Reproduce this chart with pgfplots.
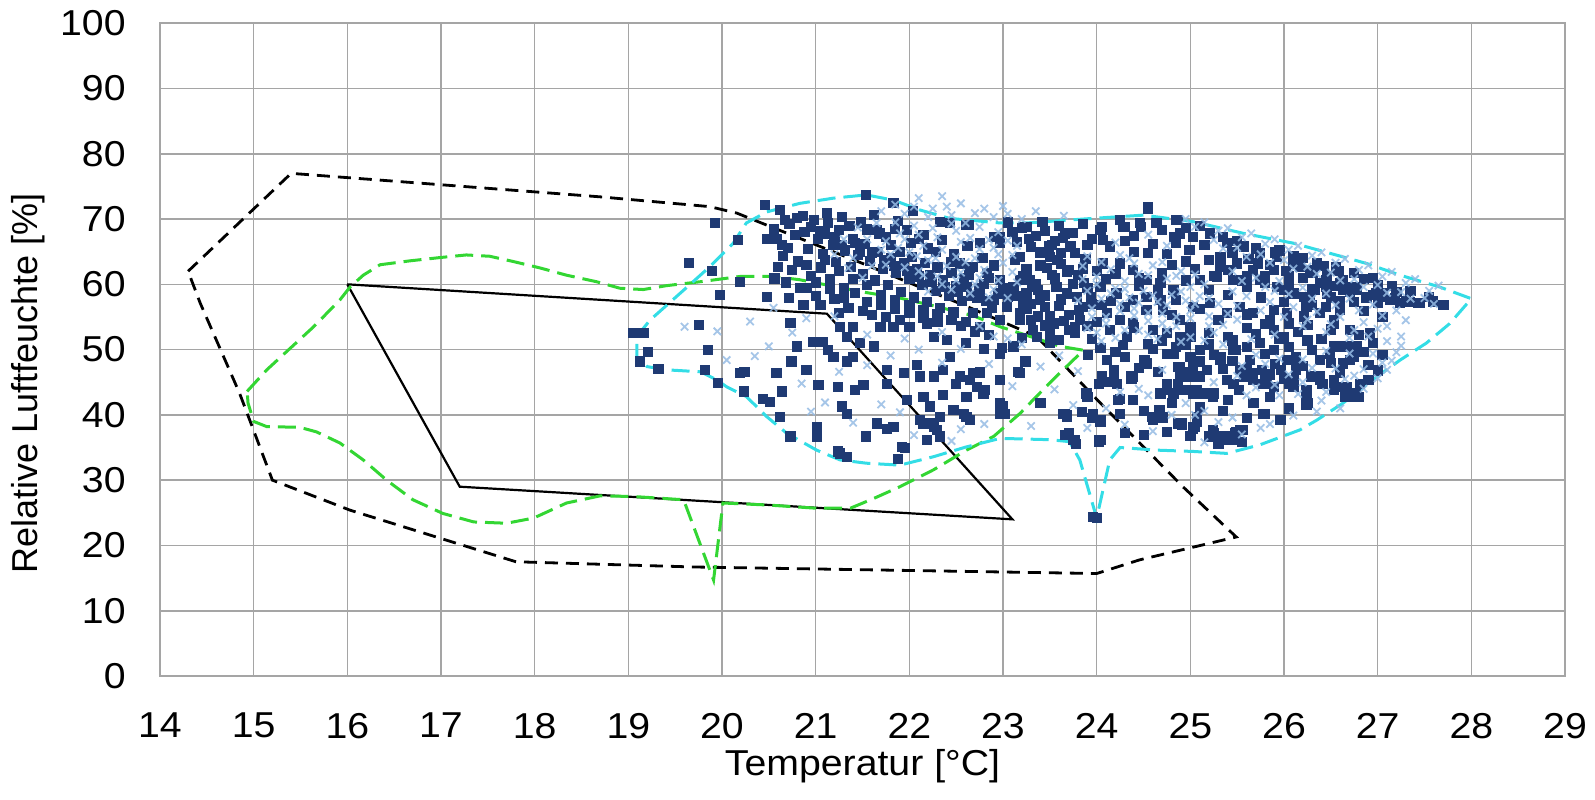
\documentclass[border=0pt]{standalone}
\usepackage{pgfplots}
\pgfplotsset{compat=1.18}
\usepackage{fontspec}
\setmainfont{Liberation Sans}
\definecolor{sq}{RGB}{31,58,115}
\definecolor{cr}{RGB}{150,188,228}
\definecolor{gr}{RGB}{51,214,51}
\definecolor{cy}{RGB}{51,221,230}
\definecolor{gridc}{RGB}{165,165,165}
\begin{document}
\begin{tikzpicture}
\useasboundingbox (-80pt,-61.5pt) rectangle (717.5pt,338pt);
\begin{axis}[
  at={(0pt,0pt)}, anchor=south west,
  scale only axis, width=702.5pt, height=326.4pt,
  xmin=14, xmax=29, ymin=0, ymax=100,
  xtick={14,15,...,29}, ytick={0,10,...,100},
  grid=major, major grid style={gridc, line width=0.8pt},
  axis line style={gridc, line width=0.8pt},
  tick style={draw=none},
  /pgf/number format/assume math mode=true,
  ticklabel style={font=\fontsize{18}{20}\selectfont, xscale=1.09},
  xticklabel style={yshift=-15pt},
  yticklabel style={xshift=-12.25pt},
  xlabel={Temperatur [°C]},
  ylabel={Relative Luftfeuchte [\%]},
  label style={font=\fontsize{18}{20}\selectfont},
  xlabel style={at={(axis description cs:0.5,0)}, anchor=north, yshift=-33pt, xscale=1.09},
  ylabel style={at={([xshift=-54pt,yshift=-17pt]axis description cs:0,0.5)}, anchor=south},
]
% outer black dashed, upper part (below the scatter)
\addplot[black, line width=1.4pt, dash pattern=on 6.5pt off 4pt] coordinates {
(14.3,62.0)(15.4,77.0)(18.7,73.4)(19.87,71.9)(20.16,70.9)(20.35,69.8)(21.5,63.2)(22.6,56.7)(23.36,52.0)
};
% dark squares
\addplot[only marks, mark=square*, mark size=2.3pt, draw=sq, fill=sq] coordinates {
(19.92,69.4)(20.46,72.2)(20.17,66.8)(19.65,63.3)(19.89,62.1)(19.98,58.4)(20.19,60.4)(20.48,66.9)(20.64,66.0)(20.67,69.9)(20.81,63.5)(20.56,60.9)(20.48,58.1)(20.71,57.9)(20.87,56.8)(20.83,59.4)(19.75,53.8)(19.05,52.6)(19.16,52.6)(19.21,49.7)(19.12,48.2)(19.32,47.0)(19.85,50.0)(19.82,46.9)(19.96,44.9)(20.24,46.6)(20.19,46.4)(20.23,43.6)(20.44,42.5)(20.51,42.0)(20.64,43.6)(20.58,46.4)(20.74,48.2)(20.80,50.5)(20.73,54.1)(20.97,51.2)(21.08,51.2)(21.13,50.0)(21.19,48.9)(21.33,48.2)(21.40,48.9)(20.90,46.9)(21.03,44.6)(21.24,44.3)(21.42,43.8)(21.51,44.6)(21.28,41.3)(21.33,40.2)(20.62,39.7)(20.73,36.7)(21.01,38.2)(21.01,36.7)(21.26,34.1)(21.33,33.6)(21.54,36.7)(21.65,38.7)(21.76,37.9)(21.83,38.2)(21.92,35.1)(21.62,50.5)(21.76,46.9)(21.94,46.4)(22.08,47.6)(22.11,45.9)(22.15,42.8)(22.26,45.9)(22.43,48.9)(22.36,46.9)(22.54,45.9)(22.65,45.4)(22.75,46.4)(22.36,43.1)(22.61,42.8)(22.79,43.3)(22.47,40.8)(22.61,39.7)(22.11,39.2)(22.22,38.7)(22.29,37.7)(22.19,36.2)(22.33,36.7)(22.97,49.4)(22.97,45.4)(21.69,53.5)(21.83,53.5)(22.0,53.5)(22.19,54.0)(22.26,52.0)(22.40,51.5)(21.47,51.0)(21.40,53.5)(21.26,53.5)(21.33,52.0)
(21.54,73.7)(21.83,72.5)(22.04,71.3)(22.33,69.6)(22.43,69.4)(22.61,69.1)(21.65,68.3)(21.97,68.3)(22.15,67.6)
(21.88,33.3)(21.95,34.9)(21.24,34.4)(22.5,44.8)(22.97,41.3)(22.97,40.2)(23.39,41.8)(23.64,40.2)(23.75,36.2)(23.96,24.4)(21.76,44.8)(21.97,42.3)(22.22,41.3)(22.58,40.2)(22.65,39.2)(22.33,39.7)(22.26,38.2)(22.15,38.7)
(24.55,71.6)(22.63,69.1)(23.2,68.6)(23.25,68.8)(24.46,69.4)(24.64,69.4)(24.28,68.8)(24.85,69.9)(24.89,67.8)(24.85,66.3)(22.9,67.3)(22.97,66.3)(22.75,66.3)(23.52,66.0)(23.64,67.1)(23.72,65.8)(23.77,64.8)(24.04,68.3)(24.07,66.8)(24.14,65.8)(23.5,64.2)(23.47,62.5)(23.18,64.2)(23.68,61.9)(23.18,60.7)(23.29,60.7)(23.31,59.6)(23.57,59.6)(23.68,58.6)(23.79,58.1)(23.5,55.1)(23.81,56.1)(23.82,54.5)(23.77,53.5)(23.77,52.5)(23.18,55.6)(23.36,52.0)(23.5,51.0)(22.99,50.2)(23.11,50.5)(23.24,48.2)(23.16,46.6)(22.68,46.4)(22.75,46.6)(22.81,43.8)(22.72,44.3)(22.97,41.8)(23.02,40.2)(23.68,39.7)(23.66,36.9)(23.77,36.2)(24.04,36.2)(24.04,39.2)(23.96,40.2)(24.25,42.5)(24.39,42.3)(24.07,45.1)(24.37,45.6)(24.18,46.4)(23.91,49.2)(24.04,50.2)(24.11,48.4)(24.28,50.7)(24.53,47.9)(24.6,39.2)(24.71,39.5)(24.91,38.5)(25.03,37.9)(25.07,38.9)(25.25,37.2)(25.35,36.2)(25.46,36.7)(25.53,37.7)(24.68,43.3)(24.82,43.3)(24.96,43.8)(25.1,43.3)(25.25,43.3)(24.89,45.9)(25.1,45.9)(25.03,47.4)(24.82,49.4)(25.0,48.9)(25.1,49.9)(25.25,49.2)(25.32,48.4)(25.46,44.8)(25.57,45.9)(25.67,45.4)(25.78,44.8)(25.89,44.3)(25.67,41.8)(25.78,40.2)(25.96,39.2)(26.1,44.3)(26.24,43.8)(26.38,45.4)(26.53,44.8)(26.67,44.3)(26.74,42.8)(26.24,41.8)(26.1,48.4)(26.38,48.4)(26.63,47.9)(26.74,49.4)(25.46,49.9)(25.74,51.0)(25.89,49.9)(26.03,48.4)(24.53,56.1)(24.71,56.1)(24.89,54.5)(25.03,56.6)(25.21,57.1)(25.39,55.6)(25.53,56.6)(25.67,55.6)(25.89,56.1)(26.03,55.6)(25.1,60.7)(25.28,61.2)(25.46,60.7)(25.6,59.6)(25.74,60.7)(25.92,59.6)(26.1,58.6)(26.28,58.1)(26.46,58.6)(26.63,59.1)(26.78,59.6)(25.03,67.3)(25.21,67.8)(25.39,66.3)(25.57,65.8)(25.74,64.8)(25.92,64.2)(26.1,63.2)(26.28,62.2)(26.46,61.2)(26.63,60.7)(26.78,59.1)(25.32,64.2)(25.5,63.2)(25.67,62.2)(25.32,62.7)(24.07,63.2)(24.25,63.2)(24.39,62.2)(24.53,60.7)(24.68,60.2)(24.82,59.1)(24.04,59.6)(24.21,58.6)(24.39,57.6)(24.53,58.1)(24.68,57.6)(24.11,55.6)(24.25,54.5)(24.39,54.0)(24.6,53.0)(24.75,52.5)(24.89,52.0)(24.32,52.0)(24.14,53.0)(22.54,63.2)(22.68,62.7)(22.83,61.7)(22.97,60.7)(23.11,59.6)(23.25,58.6)(23.39,57.6)(22.61,59.6)(22.75,58.6)(22.9,57.6)(23.04,56.6)(23.18,54.5)(23.32,53.0)(22.68,55.6)(22.83,55.6)(22.97,54.5)
(27.06,58.1)(27.18,57.9)(27.3,57.4)(27.43,57.1)(27.59,57.4)(27.71,56.8)(26.98,58.6)(26.92,52.5)(26.78,50.5)(26.74,48.9)(26.8,42.8)(26.65,42.8)(26.53,43.8)(26.45,56.6)(26.53,54.5)(26.6,56.1)(26.7,53.0)(26.6,50.5)(26.49,49.4)(26.21,58.1)(26.33,59.1)(26.45,59.6)(26.05,61.2)(25.89,62.2)(25.72,63.2)(26.21,55.1)(26.05,54.0)(25.89,53.0)(26.13,48.9)(25.97,46.9)(26.13,46.9)(26.29,45.9)(26.41,44.8)(25.8,49.4)(25.64,48.4)(25.76,46.9)(25.4,52.0)(25.48,49.9)(25.32,48.9)(25.97,39.2)(26.25,41.8)(25.68,41.8)(25.8,40.2)(25.24,37.7)(25.36,36.7)(25.48,37.2)(25.56,37.7)(25.44,36.2)(25.2,36.7)(24.87,38.7)(25.03,38.2)(25.07,39.7)(24.59,39.7)(24.71,39.7)(24.67,40.8)(23.66,40.2)(23.7,37.2)(23.78,35.6)(24.02,36.1)(23.9,42.8)(24.02,44.8)(24.22,44.8)(24.39,42.3)(24.06,45.9)(24.18,46.9)(24.39,45.9)(24.51,48.4)(24.75,49.4)(24.87,47.4)(24.99,45.9)(24.75,44.8)(24.87,44.8)(25.07,43.8)(25.24,42.8)(25.4,42.3)(25.52,43.8)(25.64,45.9)(25.8,45.4)(26.05,44.8)
(24.55,71.9)(24.87,69.9)(24.63,69.4)(24.47,68.8)(24.3,68.8)(24.06,68.8)(23.66,67.8)(23.21,68.8)(23.49,65.8)(23.58,63.7)(23.7,62.2)(23.86,60.2)(23.94,58.1)(24.83,67.3)(24.99,65.3)(25.2,63.7)(25.4,62.2)(25.6,61.2)(25.8,60.2)(26.0,59.1)
(22.97,67.3)(23.13,63.7)(23.21,61.2)(23.37,59.1)(23.05,58.1)(23.21,57.1)(23.37,55.1)(23.54,54.0)(23.7,53.0)
(27.06,58.6)(27.13,57.6)(27.24,57.1)(27.34,57.3)(27.45,57.1)(27.59,57.3)(27.7,56.8)(26.95,58.4)(26.74,59.6)(26.6,60.2)(26.45,60.7)(26.31,61.7)(26.17,62.7)(26.7,53.0)(26.53,54.0)(26.38,55.6)(26.24,56.6)(26.67,50.5)(26.7,48.4)(26.53,50.5)(26.38,48.4)(26.38,45.9)(26.53,45.4)(26.63,44.3)(26.77,43.3)(26.24,43.8)(26.24,41.8)(26.81,44.8)
(23.18,46.4)(23.0,41.3)(23.4,41.8)(23.68,40.0)(23.84,40.5)(23.95,39.5)(24.04,39.0)(24.02,35.9)(24.0,24.2)(24.11,45.1)(24.18,46.1)(24.37,45.9)(24.23,42.3)(23.89,43.3)(24.53,47.9)(24.6,39.5)(24.91,38.7)(25.05,38.2)(25.25,36.7)(25.39,36.2)(25.49,37.4)(24.75,43.8)(24.89,43.8)(25.03,43.3)(25.18,43.3)(24.89,47.4)(25.18,46.9)(25.39,45.3)(25.53,46.9)(25.67,46.4)(25.82,44.8)(26.1,45.3)(26.24,43.3)(26.38,45.9)(26.78,42.8)(26.24,41.5)
(20.72,69.2)(20.78,67.6)(20.95,68.8)(21.02,66.9)(20.92,65.4)(21.10,67.8)(21.18,66.1)(21.08,64.6)(21.25,68.3)(21.31,65.2)(21.22,63.4)(21.40,67.0)(21.45,64.5)(21.38,62.7)(21.52,66.2)(21.58,63.6)(21.50,61.6)(21.66,65.0)(21.72,62.4)(21.63,60.6)(21.80,64.1)(21.86,61.8)(21.77,59.9)(21.94,63.2)(22.00,60.8)(21.91,58.9)(22.08,62.3)(22.14,59.9)(22.05,58.0)(22.22,61.4)(22.28,59.0)(22.19,57.3)(22.36,60.6)(22.42,58.2)(22.33,56.4)(22.50,59.8)(22.56,57.4)(22.47,55.7)(22.64,61.5)(22.72,57.9)(22.80,60.1)(22.88,56.4)(21.06,62.6)(21.15,60.8)(21.30,59.4)(21.00,58.2)(20.95,61.3)(21.20,57.8)(21.42,58.7)(21.55,57.3)(21.35,56.4)(21.70,56.9)(21.85,56.2)(22.00,55.6)(22.15,54.9)(22.30,54.2)(21.60,55.3)(21.90,54.6)(22.55,53.6)(22.70,52.8)(22.85,52.2)(22.60,51.0)(22.80,50.1)(21.48,69.5)(21.62,70.6)(21.75,67.3)(21.88,69.7)(22.02,66.4)(22.20,65.5)(22.35,66.8)(22.48,64.6)(22.62,65.9)(22.78,64.0)(22.90,62.9)(21.28,70.3)(21.12,70.9)(20.86,70.5)(20.62,71.4)(20.55,68.4)(20.65,64.4)(20.75,62.2)(20.68,60.3)
(23.05,69.5)(23.35,67.4)(23.42,69.6)(23.60,68.9)(23.85,69.3)(23.95,67.0)(23.30,65.7)(23.62,64.8)(23.88,63.9)(23.40,62.9)(23.80,61.5)(24.00,62.0)(23.55,60.9)(24.10,60.8)(23.45,58.3)(23.95,57.0)(23.60,56.7)(23.25,56.3)(23.70,55.3)(24.00,54.2)(23.45,53.7)(23.95,51.6)(23.60,51.5)(24.20,49.6)
(25.15,66.0)(25.45,64.9)(25.62,63.9)(25.85,63.0)(26.02,62.0)(26.20,61.0)(26.38,60.2)(26.55,59.8)(26.70,58.8)(26.88,58.0)(25.95,65.2)(26.20,64.0)(26.42,62.8)(26.58,62.0)(26.85,60.8)(27.00,59.9)(27.20,58.9)(24.95,63.5)(24.75,64.6)(24.60,66.2)(24.40,65.0)(24.70,61.8)(24.95,60.6)(25.20,59.2)(25.40,58.4)(25.75,58.0)(26.00,57.3)(26.30,56.9)(26.60,57.4)(26.85,55.9)(27.05,55.0)(24.45,59.8)(24.30,56.6)(24.80,55.3)(25.00,53.5)(25.20,52.6)(25.60,53.3)(25.85,54.6)(26.15,52.7)(26.40,51.6)(24.55,50.9)(24.95,50.8)(25.60,50.4)(25.95,51.6)(26.30,50.0)(26.95,51.0)(27.05,49.2)(27.00,46.8)(26.90,45.3)
(20.80,70.2)(20.88,68.0)(20.98,69.9)(21.05,68.2)(21.13,69.4)(21.20,67.3)(21.28,66.0)(21.36,68.9)(21.42,66.3)(21.47,65.0)(21.55,68.4)(21.60,64.9)(21.68,67.8)(21.73,63.8)(21.80,66.0)(21.84,62.8)(21.90,65.0)(21.97,62.0)(22.03,64.2)(22.10,61.2)(22.17,63.3)(22.24,60.4)(22.30,62.6)(22.38,59.6)(22.45,61.8)(22.52,58.8)(22.58,60.9)(22.66,58.2)(22.74,59.4)(22.82,57.4)(22.95,58.6)(21.10,63.8)(21.25,62.1)(21.40,60.8)(21.55,59.9)(21.70,58.3)(21.85,57.6)(22.00,56.8)(22.15,56.1)(22.30,55.4)(22.45,54.6)(22.60,54.2)(22.75,53.5)(20.90,63.0)(21.00,60.3)(21.15,59.3)(21.30,58.0)(20.90,59.5)(21.05,56.8)(21.25,55.6)(21.50,55.9)(21.75,55.0)(20.60,62.7)(20.70,65.6)(20.58,67.0)(21.85,68.5)(22.10,67.0)(22.28,65.0)(22.45,63.4)(22.65,62.6)(22.85,61.0)(23.00,59.5)(23.15,58.2)(23.30,57.0)
(23.10,68.0)(23.28,67.0)(23.45,68.2)(23.55,66.6)(23.75,67.9)(23.90,66.1)(23.15,66.5)(23.40,64.9)(23.62,63.1)(23.85,62.4)(23.25,62.3)(23.52,61.4)(23.75,60.1)(23.90,59.4)(23.35,60.0)(23.62,57.7)(23.85,56.6)(23.45,56.5)(23.30,54.5)(23.65,54.4)(23.90,53.6)(23.50,52.6)(23.20,51.8)(24.05,56.8)(24.15,57.5)
(24.25,69.9)(24.40,67.4)(24.70,68.3)(24.95,68.6)(25.10,69.0)(25.35,67.3)(25.50,66.6)(25.70,65.5)(25.90,64.9)(26.10,64.3)(26.35,63.2)(26.55,62.6)(26.75,61.8)(26.95,61.0)(27.15,59.8)(27.35,59.0)(27.55,58.1)(24.30,66.6)(24.55,64.8)(24.80,63.0)(25.05,62.4)(25.25,61.3)(25.55,60.6)(25.80,61.3)(26.05,60.0)(26.30,59.3)(26.50,58.0)(26.75,57.3)(27.00,57.2)(24.20,61.6)(24.45,60.9)(24.65,59.2)(24.85,57.6)(25.10,56.2)(25.30,54.6)(25.60,55.4)(25.80,53.9)(26.00,52.0)(26.25,53.8)(26.50,53.1)(26.80,52.3)(24.40,53.4)(24.70,51.4)(25.00,52.0)(25.20,50.8)(25.45,51.4)(25.70,52.4)(26.05,50.4)(26.25,51.4)(26.85,49.6)(26.50,48.0)(26.20,47.5)(25.90,47.8)(25.60,47.1)(25.35,47.0)(25.00,46.6)(24.65,46.6)(24.45,47.2)(24.30,48.9)(24.60,50.1)(24.85,50.4)(25.10,48.2)(25.45,48.3)(25.85,46.2)(26.00,45.6)(26.90,47.6)(26.60,46.5)(24.80,41.8)(25.10,41.2)(25.35,40.6)(25.60,39.5)(25.85,42.8)(26.05,41.0)(24.50,40.6)(24.25,40.2)(24.30,37.2)(24.50,36.9)(24.75,37.4)(25.00,36.8)(25.30,35.5)(25.55,35.9)
};
% light crosses
\addplot[only marks, mark=x, mark size=2.6pt, draw=cr, line width=0.9pt, opacity=0.85] coordinates {
(21.70,71.2)(21.95,70.8)(22.10,73.2)(22.35,73.5)(22.55,72.4)(22.25,71.6)(22.45,70.6)(22.70,70.9)(22.90,70.3)(21.85,69.5)(22.05,69.0)(22.25,68.6)(22.50,68.2)(22.75,68.8)(22.95,68.0)(21.75,66.6)(21.95,66.9)(22.15,65.9)(22.35,65.3)(22.55,66.5)(22.75,65.4)(22.95,64.6)(21.80,64.6)(22.00,64.9)(22.20,63.7)(22.40,62.8)(22.60,63.4)(22.80,62.2)(23.00,63.3)(22.10,62.0)(22.30,61.2)(22.50,60.6)(22.70,60.0)(22.90,59.2)(23.10,61.9)(23.15,65.9)(23.05,70.8)(23.35,71.2)(23.65,70.5)(21.60,62.8)(21.40,64.0)(21.55,66.9)
(23.85,62.8)(24.00,61.2)(24.15,62.3)(24.30,60.5)(24.45,61.6)(24.60,62.9)(24.75,60.9)(24.90,62.0)(25.05,61.5)(23.90,59.0)(24.05,57.8)(24.20,59.4)(24.35,58.0)(24.50,59.0)(24.65,57.3)(24.80,58.4)(24.95,57.5)(25.10,58.2)(23.95,55.0)(24.10,54.0)(24.25,55.9)(24.40,55.2)(24.55,54.4)(24.70,55.5)(24.85,53.6)(25.00,54.8)(25.20,55.1)(24.00,52.6)(24.20,51.8)(24.45,52.9)(24.65,51.6)(24.90,51.2)(25.15,51.4)(25.35,53.8)(25.50,54.6)(25.30,57.0)(25.45,58.9)(24.35,64.0)(24.20,66.4)(24.55,67.6)(24.75,65.9)
(25.05,68.8)(25.30,68.2)(25.55,67.2)(25.80,66.2)(26.05,65.3)(26.30,64.4)(26.55,63.3)(26.80,62.2)(27.05,61.2)(27.30,60.2)(27.55,59.0)(25.25,66.8)(25.50,65.6)(25.75,64.6)(26.00,63.7)(26.25,62.7)(26.50,61.8)(26.75,60.8)(27.00,59.9)(27.25,58.8)(27.50,57.9)(25.45,62.0)(25.70,61.0)(25.95,60.5)(26.20,59.5)(26.45,58.6)(26.70,57.8)(26.95,56.9)(27.20,56.0)(25.60,58.2)(25.85,57.3)(26.10,56.5)(26.35,55.8)(26.60,55.0)(26.85,54.2)(27.10,53.6)(25.90,59.0)
(26.90,52.0)(27.10,51.3)(27.20,49.6)(27.05,48.0)(26.85,47.0)(27.00,45.6)(26.75,46.0)(26.55,47.1)(26.30,47.2)(26.05,46.2)(25.80,47.8)(25.55,47.5)(25.70,44.2)(25.95,43.0)(26.20,45.0)(26.45,43.5)(26.65,45.5)(26.85,44.0)(27.10,46.9)(25.35,50.8)(25.65,51.6)(25.90,52.3)(26.20,53.6)(26.45,52.7)(26.70,51.8)(24.70,46.9)(24.45,44.0)(24.95,41.8)(25.15,40.6)(25.45,39.6)(25.75,38.0)(25.15,35.8)(24.60,37.5)(24.30,38.5)
(19.60,53.5)(20.30,54.3)(20.50,50.5)(20.05,48.4)(19.95,52.8)(20.35,49.0)(20.85,44.8)(21.10,41.9)(20.95,40.5)(21.40,38.8)(21.70,41.6)(21.90,40.4)(22.05,36.9)(22.45,36.0)(22.55,37.8)(22.80,38.6)(22.35,48.0)(22.10,50.0)(21.80,49.1)(21.55,47.6)(21.25,46.6)(22.85,47.8)(23.10,44.4)(23.30,38.3)(23.55,43.9)(23.40,47.4)(23.60,49.1)(23.80,46.7)(22.55,50.1)(22.90,52.0)(22.75,53.6)(22.35,52.7)(23.05,51.7)(23.20,50.8)(21.95,51.7)(21.55,52.3)(21.20,55.1)(20.90,54.8)(20.55,56.4)(20.75,52.6)
(21.65,69.4)(21.85,72.2)(22.05,71.9)(22.20,70.3)(22.40,71.9)(22.60,69.4)(22.80,71.6)(23.00,72.0)(23.20,70.0)(21.90,67.8)(22.10,67.6)(22.30,67.2)(22.45,69.3)(22.65,67.1)(22.85,66.8)(23.05,66.7)(21.70,65.3)(21.88,65.6)(22.08,64.3)(22.28,64.0)(22.50,64.2)(22.70,64.0)(22.90,65.6)(23.10,64.5)(21.75,63.0)(21.95,62.6)(22.15,61.4)(22.35,60.0)(22.55,61.8)(22.75,61.0)(22.95,60.6)(23.15,60.3)(22.20,58.9)(22.45,59.2)(22.65,58.6)(22.85,58.0)(23.05,57.9)(21.50,61.0)(21.35,62.5)(21.20,64.6)(21.30,66.9)(21.45,68.7)
(23.90,64.3)(24.05,63.4)(24.25,64.5)(24.40,63.2)(24.55,61.4)(24.70,63.4)(24.85,61.3)(25.00,59.6)(25.15,60.0)(23.85,60.8)(24.00,60.0)(24.15,58.6)(24.30,59.3)(24.45,57.2)(24.60,58.3)(24.75,56.8)(24.90,58.9)(25.05,57.0)(25.20,57.9)(23.80,57.5)(23.95,56.3)(24.10,55.0)(24.25,57.0)(24.40,56.3)(24.55,55.6)(24.70,54.0)(24.85,55.0)(25.00,56.0)(25.20,53.6)(23.90,53.3)(24.05,51.3)(24.30,53.0)(24.55,52.3)(24.75,53.0)(25.00,51.9)(25.25,52.6)(25.40,55.5)(25.50,56.7)
(24.95,70.0)(25.15,69.5)(25.40,68.6)(25.65,67.8)(25.90,66.9)(26.15,65.9)(26.40,64.9)(26.65,63.9)(26.90,62.9)(27.15,61.9)(27.40,60.8)(27.65,59.8)(25.35,65.5)(25.60,64.2)(25.85,63.3)(26.10,62.4)(26.35,61.6)(26.60,60.6)(26.85,59.6)(27.10,58.7)(27.35,57.8)(27.60,57.0)(25.55,60.5)(25.80,59.6)(26.05,58.5)(26.30,57.8)(26.55,56.8)(26.80,56.0)(27.05,55.2)(27.30,54.5)(25.75,56.0)(26.00,55.0)(26.25,54.6)(26.50,53.9)(26.75,53.0)(27.00,53.2)(27.25,52.0)
(27.25,50.6)(27.15,48.3)(26.95,49.4)(26.70,49.4)(26.45,49.8)(26.20,48.5)(25.95,48.6)(25.70,49.2)(25.50,46.0)(25.25,45.0)(25.60,43.0)(25.90,44.6)(26.15,43.2)(26.40,42.2)(26.60,41.0)(26.35,40.5)(26.10,39.9)(25.85,38.6)(25.55,37.0)(25.30,38.9)(25.05,40.0)(24.80,40.0)(24.55,43.0)(24.25,43.5)(24.10,41.0)(23.90,38.0)(23.75,41.5)
};
% outer black dashed, lower part (above the scatter)
\addplot[black, line width=1.4pt, dash pattern=on 6.5pt off 4pt] coordinates {
(23.36,52.0)(24.04,41.8)(24.92,29.0)(25.49,21.3)(24.99,19.6)(24.46,17.8)(24.0,15.7)(19.7,16.7)(17.8,17.5)(17.06,20.8)(16.03,25.4)(15.2,30.0)(14.85,43.3)(14.43,57.1)(14.3,62.0)
};
% black solid
\addplot[black, line width=1.1pt] coordinates {
(16.0,60.0)(21.12,55.5)(23.1,24.0)(17.2,29.0)(16.0,60.0)
};
% green dashed
\addplot[gr, line width=1.5pt, dash pattern=on 9pt off 4pt] coordinates {
(14.93,43.6)(15.14,46.9)(15.39,50.2)(15.64,53.5)(15.92,57.6)(16.03,59.6)(16.17,61.4)(16.35,63.0)(16.67,63.6)(16.99,64.1)(17.27,64.5)(17.52,64.3)(17.77,63.5)(18.06,62.5)(18.34,61.4)(18.66,60.4)(18.91,59.4)(19.16,59.2)(19.41,59.8)(19.77,60.4)(20.19,61.2)(20.55,61.2)(20.83,60.7)(21.12,59.9)(21.47,58.9)(21.9,57.9)(22.26,56.7)(22.68,55.2)(22.97,53.5)(23.25,52.2)(23.61,50.5)(23.86,49.9)(23.75,48.4)(23.57,45.9)(23.39,43.3)(23.18,40.2)(22.9,36.7)(22.61,34.6)(22.26,31.6)(21.9,29.0)(21.62,27.2)(21.37,25.7)(21.01,25.7)(20.48,26.2)(20.01,26.5)(19.91,14.7)(19.59,27.0)(19.05,27.5)(18.70,27.6)(18.34,26.5)(17.99,24.2)(17.70,23.4)(17.35,23.6)(17.02,24.9)(16.70,27.0)(16.42,30.0)(16.17,33.1)(15.92,35.7)(15.67,37.4)(15.49,38.1)(15.14,38.2)(15.0,39.0)(14.94,41.8)(14.93,43.6)
};
% cyan dashed
\addplot[cy, line width=1.5pt, dash pattern=on 9pt off 4pt] coordinates {
(19.09,52.0)(19.23,54.5)(19.59,59.1)(19.87,62.7)(20.12,66.3)(20.26,69.4)(20.48,71.1)(20.83,72.4)(21.19,73.2)(21.54,73.7)(21.83,72.9)(22.11,71.4)(22.43,70.1)(22.97,69.4)(23.25,69.4)(23.96,70.1)(24.5,70.6)(25.03,69.6)(25.57,67.8)(26.1,66.3)(26.63,64.2)(26.88,63.2)(27.24,61.4)(27.66,59.6)(28.0,57.8)(27.77,54.0)(27.52,51.0)(27.24,48.4)(26.95,45.4)(26.63,41.8)(26.35,39.2)(26.17,37.7)(25.74,35.4)(25.39,34.1)(25.03,34.4)(24.64,34.6)(24.25,35.0)(24.14,33.1)(24.0,24.2)(23.82,33.1)(23.71,35.9)(23.5,36.2)(22.97,36.4)(22.61,35.1)(22.26,33.6)(21.9,32.3)(21.54,32.6)(21.26,33.1)(21.01,34.6)(20.69,37.2)(20.48,39.7)(20.26,42.8)(20.05,44.3)(19.94,45.4)(19.77,46.6)(19.41,46.9)(19.2,47.4)(19.09,48.9)(19.09,52.0)
};
\end{axis}
\end{tikzpicture}
\end{document}
